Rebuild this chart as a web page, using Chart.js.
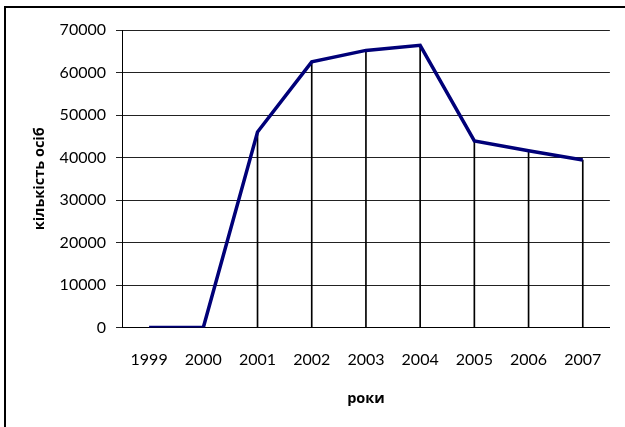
<!DOCTYPE html>
<html>
<head>
<meta charset="utf-8">
<script src="https://cdn.jsdelivr.net/npm/chart.js@4.4.1/dist/chart.umd.min.js"></script>
<style>
  html, body { margin: 0; padding: 0; background: #fff; }
  #wrap { position: relative; width: 625px; height: 427px; overflow: hidden; background: #fff; }
  #frame { position: absolute; left: 4px; top: 6px; width: 700px; height: 500px;
           border-top: 2px solid #000; border-left: 2px solid #000; box-sizing: border-box; pointer-events: none; }
  canvas { position: absolute; left: 0; top: 0; }
</style>
</head>
<body>
<div id="wrap">
  <canvas id="c" width="625" height="427"></canvas>
  <div id="frame"></div>
</div>
<script>
// ---- data ----
const years = ['1999', '2000', '2001', '2002', '2003', '2004', '2005', '2006', '2007'];
const persons = [0, 0, 46000, 62500, 65200, 66400, 43900, 41600, 39400];
const yTickValues = [0, 10000, 20000, 30000, 40000, 50000, 60000, 70000];
const xTitle = 'роки';
const yTitle = 'кількість осіб';

const tickFont = { family: 'Lato, "Open Sans", sans-serif', size: 16 };
const titleFont = { family: '"Open Sans", "Noto Sans", sans-serif', size: 14.5, weight: 'bold' };

new Chart(document.getElementById('c'), {
  data: {
    labels: years,
    datasets: [
      {
        type: 'line',
        data: persons,
        borderColor: '#000078',
        borderWidth: 3.5,
        pointRadius: 0,
        tension: 0,
        fill: false,
        order: 0
      },
      {
        type: 'bar',
        data: persons,
        backgroundColor: '#000',
        borderWidth: 0,
        barThickness: 1,
        order: 1
      }
    ]
  },
  options: {
    responsive: false,
    animation: false,
    events: [],
    layout: { padding: { top: 30, right: 12, left: 0, bottom: 0 } },
    plugins: { legend: { display: false }, tooltip: { enabled: false } },
    scales: {
      x: {
        type: 'category',
        offset: true,
        grid: { display: false, drawTicks: false },
        border: { display: true, color: '#000', width: 1 },
        ticks: { color: '#000', font: tickFont, padding: 23, maxRotation: 0 },
        title: { display: true, text: xTitle, color: '#000', font: titleFont, padding: { top: 0, bottom: 19.3 } },
        afterFit: (s) => { s.height = 99.5; }
      },
      y: {
        min: 0,
        max: 70000,
        afterBuildTicks: (s) => { s.ticks = yTickValues.map(v => ({ value: v })); },
        grid: { color: '#222', lineWidth: 1, drawTicks: true, tickLength: 6 },
        border: { display: true, color: '#000', width: 1 },
        ticks: { color: '#000', font: tickFont, padding: 10, callback: (v) => String(v) },
        title: { display: true, text: yTitle, color: '#000', font: titleFont, padding: { top: 31.3, bottom: 0 } },
        afterFit: (s) => { s.width = 122; }
      }
    }
  }
});
</script>
</body>
</html>
